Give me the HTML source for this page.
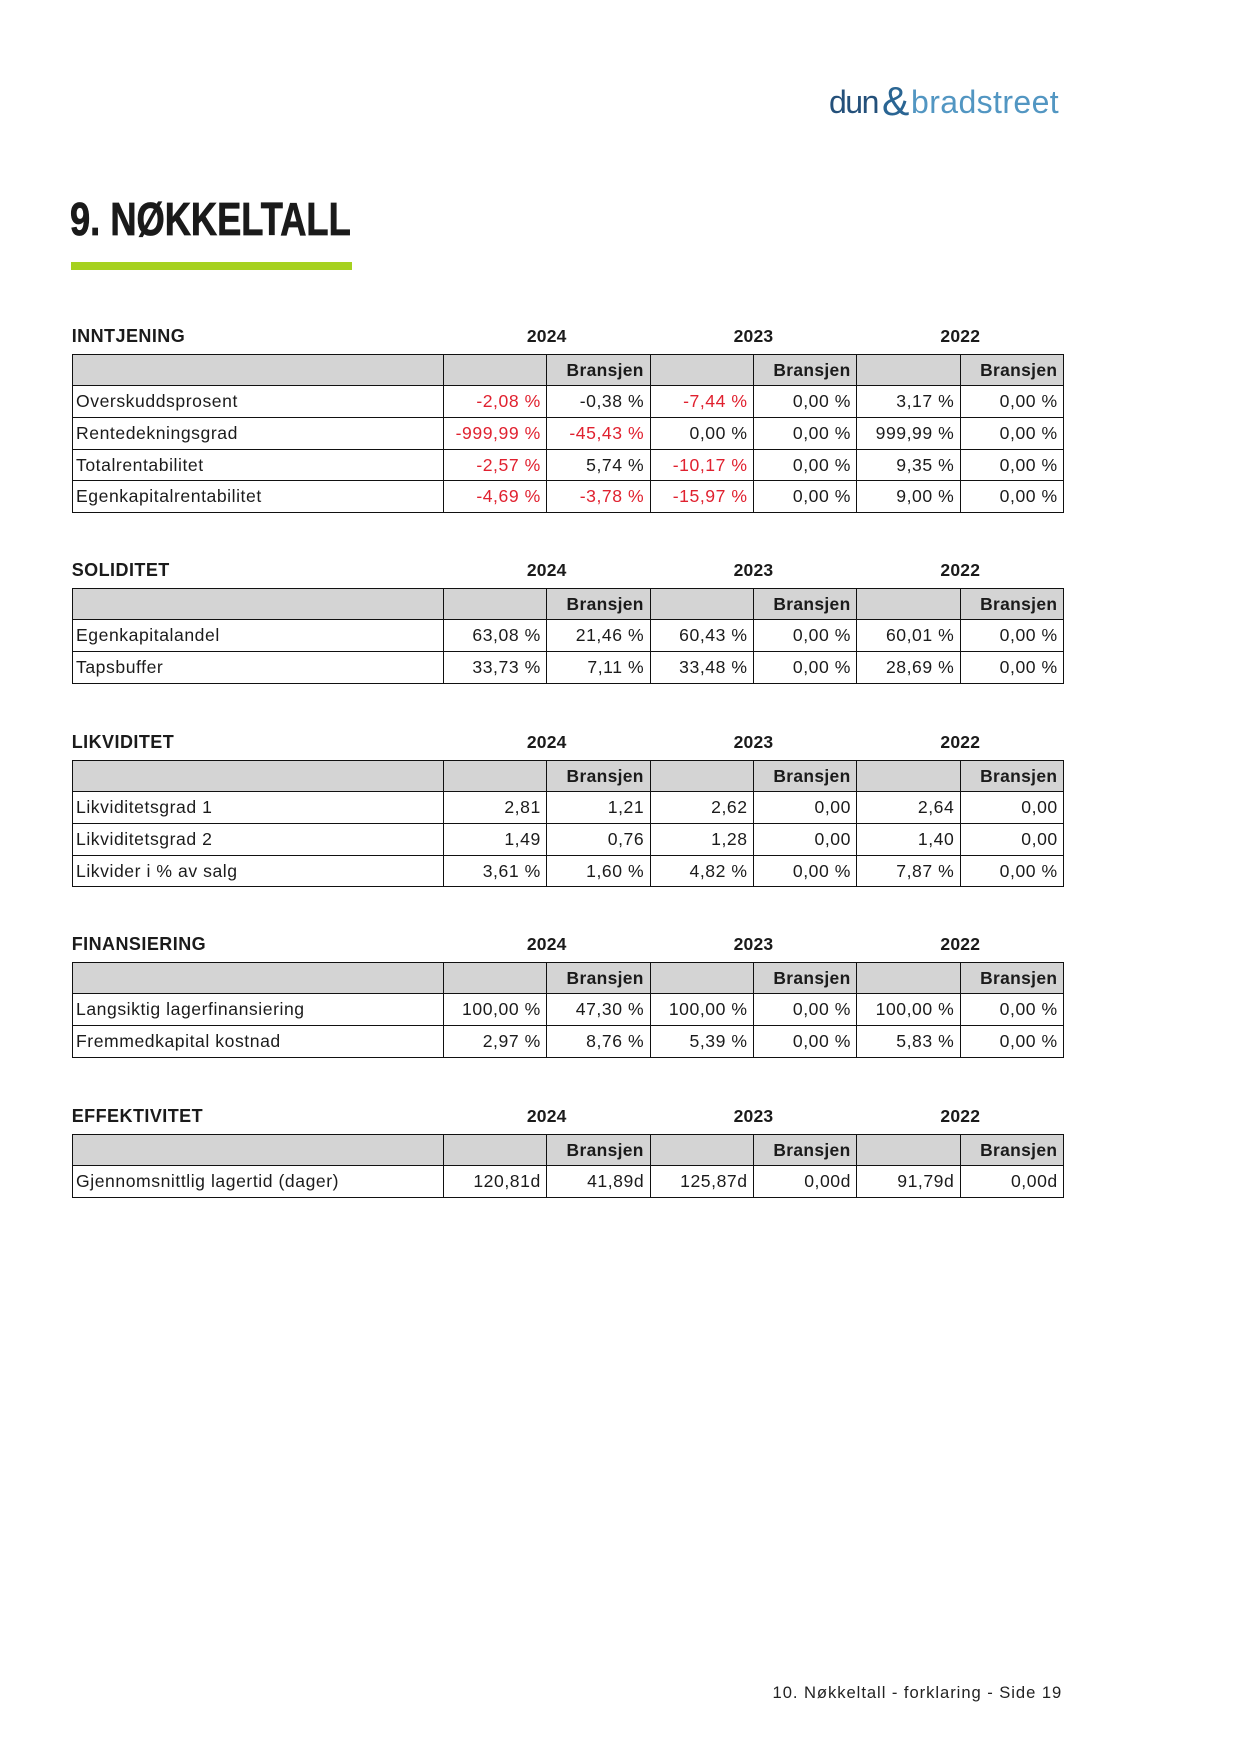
<!DOCTYPE html>
<html><head><meta charset="utf-8">
<style>
*{margin:0;padding:0;box-sizing:border-box}
html,body{width:1241px;height:1754px;background:#fff;overflow:hidden}
body{position:relative;font-family:"Liberation Sans",Arial,sans-serif;color:#1b1b1b}
.abs{position:absolute;white-space:nowrap}
.sec{position:absolute;left:71.5px;width:992.7px}
.t{position:absolute;top:-27.4px;left:0.2px;font-weight:bold;font-size:18px;line-height:20px;letter-spacing:0.45px;white-space:nowrap}
.y{position:absolute;top:-27.4px;width:206.8px;text-align:center;font-weight:bold;font-size:17.5px;line-height:20px;letter-spacing:0.2px}
.y1{left:371.8px}.y2{left:578.6px}.y3{left:785.4px}
.g{display:grid;grid-template-columns:371.3px repeat(6,103.4px);grid-auto-rows:31.6px;border-left:1px solid #111;border-top:1px solid #111}
.g div{border-right:1px solid #111;border-bottom:1px solid #111;font-size:17.6px;line-height:30.6px;letter-spacing:0.55px;text-align:right;padding-right:5.4px;white-space:nowrap;overflow:hidden}
.g div.h{background:#d4d4d4;font-weight:bold;font-size:17.4px;letter-spacing:0.35px;padding-right:5.8px}
.g div.l{text-align:left;padding-left:3.5px;padding-right:0}
.g div.r{color:#e0212f}
</style>
</head>
<body>

<!-- logo -->
<span class="abs" style="left:829px;top:85.9px;font-size:32px;line-height:32px;color:#24507a;letter-spacing:-1.5px;">dun</span>
<span class="abs" style="left:882px;top:81px;font-size:41px;line-height:41px;color:#2a6593;">&amp;</span>
<span class="abs" style="left:911px;top:85.9px;font-size:32px;line-height:32px;color:#5296c2;letter-spacing:0.4px;">bradstreet</span>

<!-- title -->
<div class="abs" style="left:69.5px;top:195.6px;font-size:46.5px;line-height:46.5px;font-weight:bold;color:#1a1a1a;-webkit-text-stroke:0.8px #1a1a1a;transform:scaleX(0.78);transform-origin:0 0;">9. NØKKELTALL</div>
<div class="abs" style="left:71px;top:262px;width:281px;height:8px;background:#a6d11f;"></div>

<!-- INNTJENING -->
<div class="sec" style="top:353.8px">
  <div class="t">INNTJENING</div>
  <div class="y y1">2024</div><div class="y y2">2023</div><div class="y y3">2022</div>
  <div class="g">
    <div class="h"></div><div class="h"></div><div class="h">Bransjen</div><div class="h"></div><div class="h">Bransjen</div><div class="h"></div><div class="h">Bransjen</div>
    <div class="l">Overskuddsprosent</div><div class="r">-2,08 %</div><div>-0,38 %</div><div class="r">-7,44 %</div><div>0,00 %</div><div>3,17 %</div><div>0,00 %</div>
    <div class="l">Rentedekningsgrad</div><div class="r">-999,99 %</div><div class="r">-45,43 %</div><div>0,00 %</div><div>0,00 %</div><div>999,99 %</div><div>0,00 %</div>
    <div class="l">Totalrentabilitet</div><div class="r">-2,57 %</div><div>5,74 %</div><div class="r">-10,17 %</div><div>0,00 %</div><div>9,35 %</div><div>0,00 %</div>
    <div class="l">Egenkapitalrentabilitet</div><div class="r">-4,69 %</div><div class="r">-3,78 %</div><div class="r">-15,97 %</div><div>0,00 %</div><div>9,00 %</div><div>0,00 %</div>
  </div>
</div>

<!-- SOLIDITET -->
<div class="sec" style="top:587.8px">
  <div class="t">SOLIDITET</div>
  <div class="y y1">2024</div><div class="y y2">2023</div><div class="y y3">2022</div>
  <div class="g">
    <div class="h"></div><div class="h"></div><div class="h">Bransjen</div><div class="h"></div><div class="h">Bransjen</div><div class="h"></div><div class="h">Bransjen</div>
    <div class="l">Egenkapitalandel</div><div>63,08 %</div><div>21,46 %</div><div>60,43 %</div><div>0,00 %</div><div>60,01 %</div><div>0,00 %</div>
    <div class="l">Tapsbuffer</div><div>33,73 %</div><div>7,11 %</div><div>33,48 %</div><div>0,00 %</div><div>28,69 %</div><div>0,00 %</div>
  </div>
</div>

<!-- LIKVIDITET -->
<div class="sec" style="top:759.8px">
  <div class="t">LIKVIDITET</div>
  <div class="y y1">2024</div><div class="y y2">2023</div><div class="y y3">2022</div>
  <div class="g">
    <div class="h"></div><div class="h"></div><div class="h">Bransjen</div><div class="h"></div><div class="h">Bransjen</div><div class="h"></div><div class="h">Bransjen</div>
    <div class="l">Likviditetsgrad 1</div><div>2,81</div><div>1,21</div><div>2,62</div><div>0,00</div><div>2,64</div><div>0,00</div>
    <div class="l">Likviditetsgrad 2</div><div>1,49</div><div>0,76</div><div>1,28</div><div>0,00</div><div>1,40</div><div>0,00</div>
    <div class="l">Likvider i % av salg</div><div>3,61 %</div><div>1,60 %</div><div>4,82 %</div><div>0,00 %</div><div>7,87 %</div><div>0,00 %</div>
  </div>
</div>

<!-- FINANSIERING -->
<div class="sec" style="top:961.8px">
  <div class="t">FINANSIERING</div>
  <div class="y y1">2024</div><div class="y y2">2023</div><div class="y y3">2022</div>
  <div class="g">
    <div class="h"></div><div class="h"></div><div class="h">Bransjen</div><div class="h"></div><div class="h">Bransjen</div><div class="h"></div><div class="h">Bransjen</div>
    <div class="l">Langsiktig lagerfinansiering</div><div>100,00 %</div><div>47,30 %</div><div>100,00 %</div><div>0,00 %</div><div>100,00 %</div><div>0,00 %</div>
    <div class="l">Fremmedkapital kostnad</div><div>2,97 %</div><div>8,76 %</div><div>5,39 %</div><div>0,00 %</div><div>5,83 %</div><div>0,00 %</div>
  </div>
</div>

<!-- EFFEKTIVITET -->
<div class="sec" style="top:1133.8px">
  <div class="t">EFFEKTIVITET</div>
  <div class="y y1">2024</div><div class="y y2">2023</div><div class="y y3">2022</div>
  <div class="g">
    <div class="h"></div><div class="h"></div><div class="h">Bransjen</div><div class="h"></div><div class="h">Bransjen</div><div class="h"></div><div class="h">Bransjen</div>
    <div class="l">Gjennomsnittlig lagertid (dager)</div><div>120,81d</div><div>41,89d</div><div>125,87d</div><div>0,00d</div><div>91,79d</div><div>0,00d</div>
  </div>
</div>

<!-- footer -->
<div class="abs" style="right:178.8px;top:1685.4px;font-size:16.6px;line-height:16.6px;letter-spacing:0.95px;color:#222;">10. Nøkkeltall - forklaring - Side 19</div>

</body></html>
